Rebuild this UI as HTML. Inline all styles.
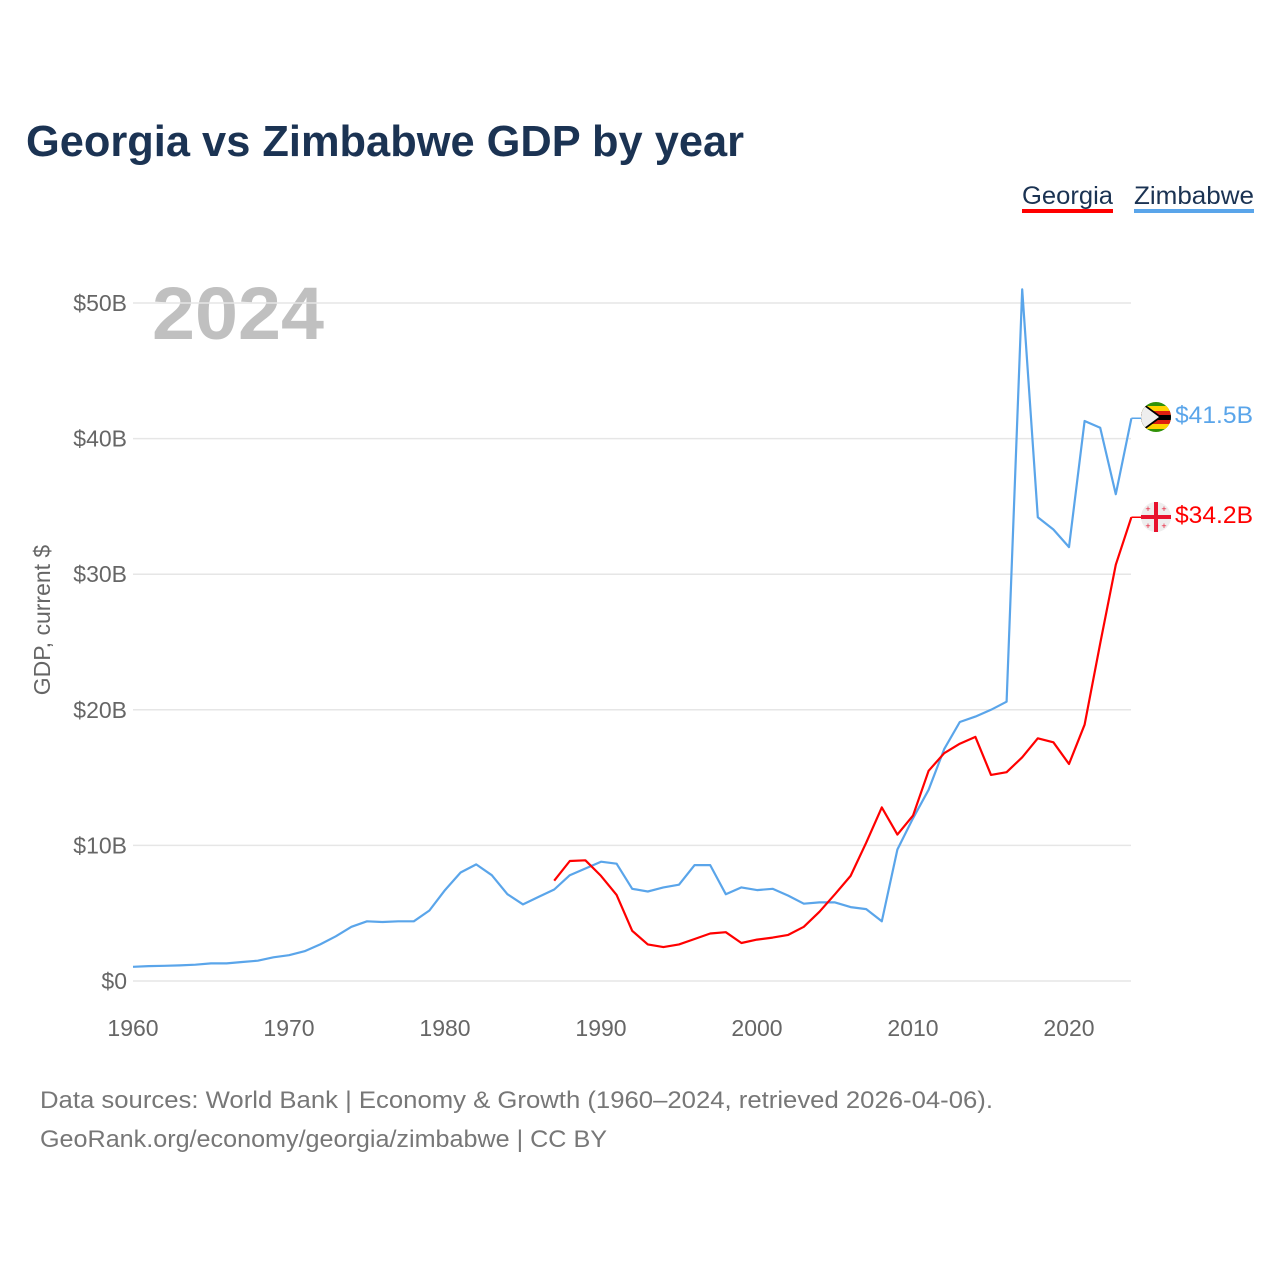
<!DOCTYPE html>
<html><head><meta charset="utf-8"><style>
body{margin:0;background:#fff;font-family:"Liberation Sans",sans-serif;}
svg text{font-family:"Liberation Sans",sans-serif;}
</style></head><body>
<svg width="1280" height="1280" viewBox="0 0 1280 1280">
<text x="26" y="156" font-size="44" font-weight="bold" fill="#1b3353" textLength="718" lengthAdjust="spacingAndGlyphs">Georgia vs Zimbabwe GDP by year</text>
<g>
<text x="1022" y="204" font-size="25" fill="#1b3353" textLength="91" lengthAdjust="spacingAndGlyphs">Georgia</text>
<rect x="1022" y="209" width="91" height="4" fill="#ff0000"/>
<text x="1134" y="204" font-size="25" fill="#1b3353" textLength="120" lengthAdjust="spacingAndGlyphs">Zimbabwe</text>
<rect x="1134" y="209" width="120" height="4" fill="#5aa5ea"/>
</g>
<text x="152" y="339" font-size="74" font-weight="bold" fill="#c0c0c0" textLength="172" lengthAdjust="spacingAndGlyphs">2024</text>
<g id="grid"></g>
<g id="yticks"></g>
<g id="xticks"></g>
<text transform="translate(50,620) rotate(-90)" text-anchor="middle" font-size="23" fill="#666">GDP, current $</text>
<g id="lines"></g>
<g>
<clipPath id="cz"><circle cx="1156" cy="417" r="15"/></clipPath>
<g clip-path="url(#cz)">
<rect x="1140" y="402" width="32" height="30" fill="#319208"/>
<rect x="1140" y="406" width="32" height="5" fill="#ffd200"/>
<rect x="1140" y="411" width="32" height="4" fill="#de2010"/>
<rect x="1140" y="415" width="32" height="5" fill="#000"/>
<rect x="1140" y="420" width="32" height="4" fill="#de2010"/>
<rect x="1140" y="424" width="32" height="5" fill="#ffd200"/>
<polygon points="1140,401 1162,417 1140,433" fill="#000"/>
<polygon points="1140,403 1159,417 1140,431" fill="#eee"/>
</g>
</g>
<g>
<circle cx="1156" cy="517" r="15" fill="#eee"/>
<rect x="1141" y="515" width="30" height="4" fill="#e8112d"/>
<rect x="1154" y="502" width="4" height="30" fill="#e8112d"/>
<text x="1148" y="512" font-size="9" fill="#e8112d" text-anchor="middle">+</text>
<text x="1164" y="512" font-size="9" fill="#e8112d" text-anchor="middle">+</text>
<text x="1148" y="529" font-size="9" fill="#e8112d" text-anchor="middle">+</text>
<text x="1164" y="529" font-size="9" fill="#e8112d" text-anchor="middle">+</text>
</g>
<text x="1175" y="423" font-size="24" fill="#5aa5ea" textLength="78" lengthAdjust="spacingAndGlyphs">$41.5B</text>
<text x="1175" y="523" font-size="24" fill="#ff0000" textLength="78" lengthAdjust="spacingAndGlyphs">$34.2B</text>
<text x="40" y="1108" font-size="24" fill="#777" textLength="953" lengthAdjust="spacingAndGlyphs">Data sources: World Bank | Economy &amp; Growth (1960–2024, retrieved 2026-04-06).</text>
<text x="40" y="1147" font-size="24" fill="#777" textLength="567" lengthAdjust="spacingAndGlyphs">GeoRank.org/economy/georgia/zimbabwe | CC BY</text>
</svg>
<script>
const yTicks=[0,10,20,30,40,50];
const yTickLabels=["$0","$10B","$20B","$30B","$40B","$50B"];
const xTicks=[1960,1970,1980,1990,2000,2010,2020];
const zimStart=1960;
const zimValues=[1.05,1.1,1.12,1.15,1.2,1.3,1.3,1.4,1.5,1.75,1.9,2.2,2.7,3.3,4.0,4.4,4.35,4.4,4.4,5.2,6.7,8.0,8.6,7.8,6.4,5.65,6.2,6.75,7.8,8.3,8.8,8.65,6.8,6.6,6.9,7.1,8.55,8.55,6.4,6.9,6.7,6.8,6.3,5.7,5.8,5.8,5.45,5.3,4.4,9.7,12.0,14.1,17.1,19.1,19.5,20.0,20.6,51.0,34.2,33.3,32.0,41.3,40.8,35.9,41.5];
const geoStart=1987;
const geoValues=[7.4,8.85,8.9,7.75,6.35,3.7,2.7,2.5,2.7,3.1,3.5,3.6,2.8,3.05,3.2,3.4,4.0,5.1,6.4,7.75,10.2,12.8,10.8,12.2,15.5,16.8,17.5,18.0,15.2,15.4,16.5,17.9,17.6,16.0,18.9,24.9,30.7,34.2];
const NS="http://www.w3.org/2000/svg";
const X=yr=>133+(yr-1960)*15.6;
const Y=v=>981-v*13.56;
function mk(tag,attrs,parent){const e=document.createElementNS(NS,tag);for(const k in attrs)e.setAttribute(k,attrs[k]);parent.appendChild(e);return e;}
const grid=document.getElementById('grid'),yt=document.getElementById('yticks'),xt=document.getElementById('xticks'),lines=document.getElementById('lines');
yTicks.forEach((v,i)=>{
 const l=mk('line',{x1:133,x2:1131,y1:Y(v),y2:Y(v),stroke:'#e6e6e6','stroke-width':1.5},grid);
 
 
 const t=mk('text',{x:127,y:Y(v)+8,'text-anchor':'end','font-size':23,fill:'#666'},yt);
 t.textContent=yTickLabels[i];
 
 
});
xTicks.forEach(yr=>{
 const t=mk('text',{x:X(yr),y:1036,'text-anchor':'middle','font-size':23,fill:'#666'},xt);
 t.textContent=yr;
 
 
});
function line(start,vals,color,name){
 const pts=vals.map((v,i)=>X(start+i).toFixed(1)+','+Y(v).toFixed(1));
 const p=mk('polyline',{points:pts.join(' '),fill:'none',stroke:color,'stroke-width':2.2,'stroke-linejoin':'round'},lines);
 
 
 const last=vals[vals.length-1];
 const c=mk('line',{x1:X(start+vals.length-1),x2:1141,y1:Y(last),y2:Y(last),stroke:color,'stroke-width':1.5},lines);
 
 
}
line(zimStart,zimValues,'#5aa5ea','zimbabwe-line');
line(geoStart,geoValues,'#ff0000','georgia-line');
</script>
</body></html>
